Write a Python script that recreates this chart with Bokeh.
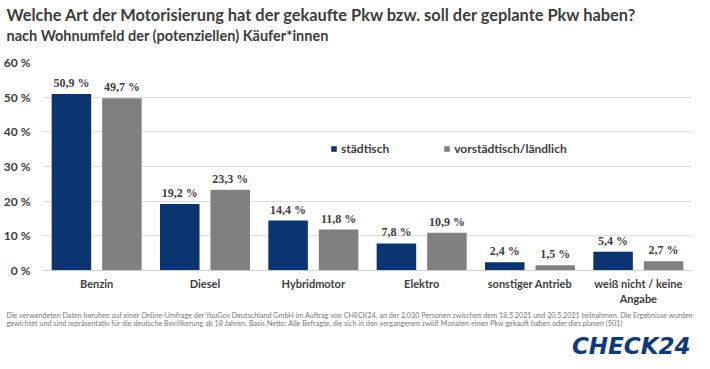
from bokeh.plotting import figure
from bokeh.models import (ColumnDataSource, FactorRange, Range1d, Legend, LegendItem,
                          LabelSet, Title, FixedTicker, CustomJSTickFormatter)
from bokeh.transform import dodge
from bokeh.embed import file_html
from bokeh.resources import INLINE

categories = ["Benzin", "Diesel", "Hybridmotor", "Elektro", "sonstiger Antrieb", "weiß nicht / keine\nAngabe"]
staedtisch = [50.9, 19.2, 14.4, 7.8, 2.4, 5.4]
laendlich = [49.7, 23.3, 11.8, 10.9, 1.5, 2.7]
series_names = ["städtisch", "vorstädtisch/ländlich"]
y_ticks = [0, 10, 20, 30, 40, 50, 60]

title_text = "Welche Art der Motorisierung hat der gekaufte Pkw bzw. soll der geplante Pkw haben?"
subtitle_text = "nach Wohnumfeld der (potenziellen) Käufer*innen"
note_lines = [
    "Die verwendeten Daten beruhen auf einer Online-Umfrage der YouGov Deutschland GmbH im Auftrag von CHECK24, "
    "an der 2.030 Personen zwischen dem 18.5.2021 und 20.5.2021 teilnahmen. Die Ergebnisse wurden",
    "gewichtet und sind repräsentativ für die deutsche Bevölkerung ab 18 Jahren. Basis Netto: Alle Befragte, "
    "die sich in den vergangenen zwölf Monaten einen Pkw gekauft haben oder dies planen (501)",
]
logo_text = "CHECK24"

BLUE = "#0b3470"
GREY = "#808080"
TXT = "#3d3d3d"
NOTE = "#777777"
FONT = "Lato"

fmt = lambda v: f"{v:.1f}".replace(".", ",") + " %"
src = ColumnDataSource(dict(
    cat=categories, a=staedtisch, b=laendlich,
    la=[fmt(v) for v in staedtisch], lb=[fmt(v) for v in laendlich]))

W, H = 694, 361
FL, FT, FB = 36, 62, 270
p = figure(width=W, height=H, x_range=FactorRange(*categories, range_padding=0),
           y_range=Range1d(0, 60), output_backend="svg", toolbar_location=None,
           min_border_left=FL, min_border_right=2, min_border_top=FT, min_border_bottom=H - FB)
p.outline_line_color = None

ra = p.vbar(x=dodge("cat", -0.233, range=p.x_range), top="a", width=0.365, source=src,
            fill_color=BLUE, line_color=None)
rb = p.vbar(x=dodge("cat", 0.233, range=p.x_range), top="b", width=0.365, source=src,
            fill_color=GREY, line_color=None)

for col, lab, off in (("a", "la", -0.233), ("b", "lb", 0.233)):
    p.add_layout(LabelSet(x=dodge("cat", off, range=p.x_range), y=col, text=lab, source=src,
                          y_offset=4, text_align="center", text_baseline="bottom",
                          text_font=FONT, text_font_style="bold", text_font_size="12px",
                          text_color=TXT))

p.yaxis.ticker = FixedTicker(ticks=y_ticks)
p.yaxis.formatter = CustomJSTickFormatter(code="return tick + ' %';")
p.yaxis.axis_line_color = None
p.yaxis.major_tick_line_color = None
p.yaxis.minor_tick_line_color = None
p.yaxis.major_tick_out = 6
p.yaxis.major_tick_in = 0
p.yaxis.major_label_text_font = FONT
p.yaxis.major_label_text_font_style = "bold"
p.yaxis.major_label_text_font_size = "12px"
p.yaxis.major_label_text_color = TXT
p.yaxis.major_label_standoff = 6

p.xaxis.axis_line_color = "#d0d0d0"
p.xaxis.major_tick_line_color = None
p.xaxis.minor_tick_line_color = None
p.xaxis.major_tick_out = 0
p.xaxis.major_tick_in = 0
p.xaxis.major_label_text_font = FONT
p.xaxis.major_label_text_font_style = "bold"
p.xaxis.major_label_text_font_size = "11px"
p.xaxis.major_label_text_color = TXT
p.xaxis.major_label_standoff = 6

p.xgrid.grid_line_color = None
p.ygrid.grid_line_color = "#dcdcdc"
p.ygrid.grid_line_width = 1

legend = Legend(items=[LegendItem(label=series_names[0], renderers=[ra]),
                       LegendItem(label=series_names[1], renderers=[rb])],
                location=(288, 114), orientation="horizontal", spacing=54,
                glyph_width=7, glyph_height=7, label_standoff=4, padding=0, margin=0,
                border_line_color=None, background_fill_alpha=0,
                label_text_font=FONT, label_text_font_style="bold",
                label_text_font_size="12px", label_text_color=TXT)
p.add_layout(legend)

# "above" panels stack outward from the frame: first added = nearest the frame
p.add_layout(Title(text="\u00a0", text_font=FONT, text_font_size="1px", standoff=16), "above")
p.add_layout(Title(text=subtitle_text, align="left", offset=-FL, standoff=0,
                   text_font=FONT, text_font_style="bold", text_font_size="14.5px",
                   text_color=TXT), "above")
p.add_layout(Title(text=title_text, align="left", offset=-FL, standoff=2,
                   text_font=FONT, text_font_style="bold", text_font_size="16.4px",
                   text_color=TXT), "above")

# "below" panels stack outward from the x axis
p.add_layout(Title(text="\n".join(note_lines), align="left", offset=-FL, standoff=0,
                   text_font=FONT, text_font_style="normal", text_font_size="7.2px",
                   text_line_height=0.98, text_color=NOTE), "below")
p.add_layout(Title(text=logo_text, align="right", offset=2, standoff=5,
                   text_font="DejaVu Sans", text_font_style="bold italic",
                   text_font_size="23px", text_color="#0f3b7a"), "below")

open("out.html", "w").write(file_html(p, INLINE))
